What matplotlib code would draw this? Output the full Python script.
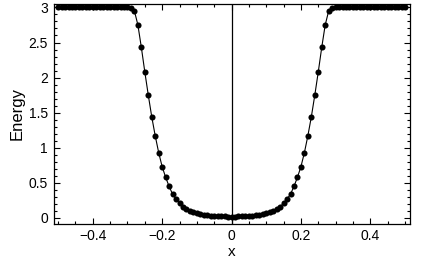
import numpy as np
import matplotlib.pyplot as plt
from matplotlib.ticker import MultipleLocator

# left half of the well, x = -0.5 ... 0 in steps of 0.01 (right half is mirrored)
x_left = [round(-0.5 + 0.01 * i, 2) for i in range(51)]
e_left = [3.0] * 21 + [
    2.99, 2.95, 2.75, 2.43, 2.08, 1.75, 1.44, 1.17, 0.93, 0.73,
    0.58, 0.45, 0.34, 0.27, 0.21, 0.16, 0.13, 0.10, 0.085, 0.067,
    0.053, 0.043, 0.036, 0.031, 0.027, 0.024, 0.022, 0.021, 0.020, 0.020,
]

x_vals = np.array(x_left + [-v for v in x_left[-2::-1]])
energy = np.array(e_left + e_left[-2::-1])

plt.rcParams['font.family'] = ['Liberation Sans', 'DejaVu Sans']

fig = plt.figure(figsize=(4.22, 2.61), dpi=100)
ax = fig.add_axes([0.127, 0.142, 0.845, 0.843])

ax.plot(x_vals, energy, color='black', lw=0.8, marker='o', ms=4.4,
        markeredgewidth=0)
ax.axvline(0, color='black', lw=0.9)

ax.set_xlim(-0.513, 0.515)
ax.set_ylim(-0.085, 3.05)

ax.xaxis.set_minor_locator(MultipleLocator(0.05))
ax.yaxis.set_minor_locator(MultipleLocator(0.1))
ax.set_xticks([-0.4, -0.2, 0, 0.2, 0.4])
ax.set_xticklabels(['\u22120.4', '\u22120.2', '0', '0.2', '0.4'])
ax.set_yticks([0, 0.5, 1, 1.5, 2, 2.5, 3])
ax.set_yticklabels(['0', '0.5', '1', '1.5', '2', '2.5', '3'])

ax.tick_params(which='both', direction='in', top=True, right=True,
               width=0.8, labelsize=10, color='black')
ax.tick_params(which='major', length=4.5, pad=4)
ax.tick_params(which='minor', length=2.5)
for s in ax.spines.values():
    s.set_linewidth(0.9)

ax.set_xlabel('x', fontsize=11, labelpad=1)
ax.set_ylabel('Energy', fontsize=12, labelpad=3)

fig.savefig('out.png', dpi=100)
